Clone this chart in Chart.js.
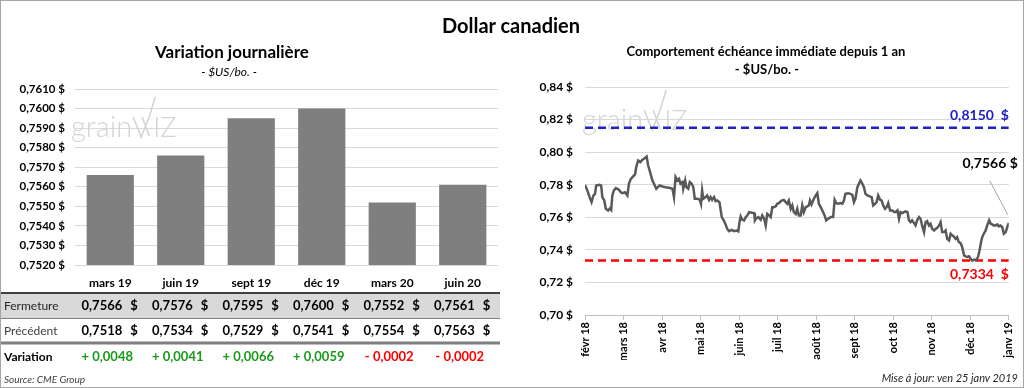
<!DOCTYPE html>
<html lang="fr">
<head>
<meta charset="utf-8">
<script src="https://cdn.jsdelivr.net/npm/chart.js@4/dist/chart.umd.min.js"></script>
<style>
  body { margin: 0; background: #fff; }
  #wrap { position: relative; width: 1024px; height: 388px; background: #fff; font-family: Lato, "Noto Sans", sans-serif; color: #000; overflow: hidden; }
  #frame { position: absolute; inset: 0; border: 1px solid #a6a6a6; pointer-events: none; }
  .txt { position: absolute; white-space: nowrap; }
  canvas { position: absolute; top: 0; }
</style>
</head>
<body>
<div id="wrap">
  <canvas id="daily" width="505" height="388" style="left:0"></canvas>
  <canvas id="trend" width="519" height="388" style="left:505px"></canvas>

  <div class="txt" style="left:0;width:1022px;top:12px;line-height:26px;text-align:center;font-weight:bold;font-size:20px">Dollar canadien</div>
  <div class="txt" style="left:0;width:464px;top:41px;line-height:22px;text-align:center;font-weight:bold;font-size:17px">Variation journalière</div>
  <div class="txt" style="left:0;width:458px;top:64px;line-height:16px;text-align:center;font-style:italic;font-size:12px">- $US/bo. -</div>
  <div class="txt" style="left:512px;width:508px;top:43px;line-height:16px;text-align:center;font-weight:bold;font-size:13px">Comportement échéance immédiate depuis 1 an</div>
  <div class="txt" style="left:512px;width:510px;top:61px;line-height:16px;text-align:center;font-weight:bold;font-size:13px">- $US/bo. -</div>
  <div class="txt" style="left:4px;top:372px;line-height:14px;font-style:italic;font-size:10px;color:#404040">Source: CME Group</div>
  <div class="txt" style="right:6px;top:371px;line-height:14px;font-style:italic;font-size:11px;color:#262626">Mise à jour: ven 25 janv 2019</div>
  <div id="frame"></div>
</div>

<script>
// Daily variation (left)
const contracts = ['mars 19', 'juin 19', 'sept 19', 'déc 19', 'mars 20', 'juin 20']
const closeValues = [0.7566, 0.7576, 0.7595, 0.7600, 0.7552, 0.7561]
const previousValues = [0.7518, 0.7534, 0.7529, 0.7541, 0.7554, 0.7563]
const variations = [0.0048, 0.0041, 0.0066, 0.0059, -0.0002, -0.0002]

// One-year behaviour (right), x = months since févr 18
const monthLabels = ['févr 18', 'mars 18', 'avr 18', 'mai 18', 'juin 18', 'juil 18', 'août 18', 'sept 18', 'oct 18', 'nov 18', 'déc 18', 'janv 19']
const trendX = [
  0, 0.06, 0.12, 0.17, 0.22, 0.26, 0.29, 0.38, 0.42, 0.45, 0.50, 0.54, 0.60, 0.65, 0.68, 0.71, 0.75, 0.80, 0.88, 0.93,
  0.97, 1.04, 1.10, 1.14, 1.19, 1.25, 1.30, 1.33, 1.38, 1.44, 1.49, 1.53, 1.60, 1.64, 1.69, 1.75, 1.79, 1.85, 1.89, 1.94,
  2.01, 2.09, 2.18, 2.27, 2.31, 2.35, 2.40, 2.44, 2.48, 2.53, 2.55, 2.60, 2.63, 2.68, 2.72, 2.77, 2.81, 2.85, 2.92, 2.98,
  3.01, 3.04, 3.07, 3.13, 3.17, 3.22, 3.26, 3.30, 3.35, 3.39, 3.43, 3.49, 3.55, 3.61, 3.65, 3.69, 3.74, 3.81, 3.87, 3.93,
  3.98, 4.01, 4.04, 4.08, 4.13, 4.17, 4.21, 4.26, 4.33, 4.39, 4.41, 4.45, 4.50, 4.56, 4.60, 4.65, 4.69, 4.73, 4.78, 4.82,
  4.86, 4.90, 4.95, 4.99, 5.03, 5.10, 5.16, 5.21, 5.25, 5.29, 5.34, 5.38, 5.42, 5.47, 5.51, 5.55, 5.60, 5.64, 5.68, 5.73,
  5.77, 5.81, 5.84, 5.88, 5.94, 5.99, 6.03, 6.07, 6.12, 6.16, 6.22, 6.26, 6.31, 6.38, 6.44, 6.48, 6.52, 6.57, 6.63, 6.68,
  6.72, 6.76, 6.83, 6.89, 6.94, 6.98, 7.02, 7.07, 7.11, 7.15, 7.20, 7.24, 7.28, 7.33, 7.39, 7.44, 7.48, 7.53, 7.57, 7.61,
  7.66, 7.70, 7.74, 7.79, 7.83, 7.87, 7.92, 7.98, 8.02, 8.06, 8.11, 8.15, 8.19, 8.24, 8.28, 8.32, 8.37, 8.41, 8.45, 8.49,
  8.54, 8.58, 8.62, 8.67, 8.71, 8.75, 8.80, 8.84, 8.88, 8.93, 8.97, 9.01, 9.06, 9.10, 9.14, 9.19, 9.23, 9.27, 9.32, 9.36,
  9.40, 9.45, 9.49, 9.53, 9.57, 9.62, 9.66, 9.70, 9.75, 9.79, 9.84, 9.88, 9.92, 9.97, 10.01, 10.05, 10.09, 10.16, 10.20, 10.24,
  10.28, 10.31, 10.35, 10.40, 10.44, 10.49, 10.53, 10.57, 10.61, 10.66, 10.70, 10.74, 10.78, 10.83, 10.87, 10.92, 10.96, 11.00
]
const trendY = [
  0.7799, 0.7765, 0.7724, 0.7693, 0.7734, 0.7744, 0.7795, 0.7799, 0.7795, 0.7724, 0.7703, 0.7652, 0.7642, 0.7656, 0.7646, 0.7734, 0.7765, 0.7779, 0.7769, 0.7754,
  0.7748, 0.7754, 0.7734, 0.7806, 0.7836, 0.7851, 0.7863, 0.7908, 0.7949, 0.7939, 0.7953, 0.7959, 0.7973, 0.7918, 0.7877, 0.7826, 0.7806, 0.7775, 0.7785, 0.7795,
  0.7789, 0.7785, 0.7781, 0.7775, 0.7724, 0.7847, 0.7826, 0.7836, 0.7806, 0.7816, 0.7775, 0.7826, 0.7785, 0.7775, 0.7816, 0.7806, 0.7785, 0.7714, 0.7714, 0.7707,
  0.7683, 0.7765, 0.7714, 0.7724, 0.7734, 0.7707, 0.7724, 0.7707, 0.7724, 0.7699, 0.7703, 0.7693, 0.7601, 0.7576, 0.7556, 0.7529, 0.7515, 0.7523, 0.7515, 0.7519,
  0.7513, 0.7570, 0.7605, 0.7585, 0.7581, 0.7601, 0.7611, 0.7632, 0.7628, 0.7626, 0.7581, 0.7595, 0.7601, 0.7585, 0.7611, 0.7591, 0.7550, 0.7621, 0.7611, 0.7601,
  0.7662, 0.7662, 0.7667, 0.7683, 0.7687, 0.7703, 0.7707, 0.7693, 0.7683, 0.7703, 0.7652, 0.7673, 0.7632, 0.7621, 0.7652, 0.7611, 0.7611, 0.7673, 0.7632, 0.7662,
  0.7667, 0.7673, 0.7703, 0.7679, 0.7714, 0.7734, 0.7748, 0.7683, 0.7662, 0.7642, 0.7611, 0.7581, 0.7591, 0.7601, 0.7601, 0.7707, 0.7687, 0.7683, 0.7687, 0.7683,
  0.7703, 0.7744, 0.7748, 0.7744, 0.7738, 0.7693, 0.7714, 0.7785, 0.7806, 0.7826, 0.7806, 0.7785, 0.7744, 0.7734, 0.7728, 0.7724, 0.7673, 0.7683, 0.7693, 0.7734,
  0.7707, 0.7703, 0.7673, 0.7652, 0.7662, 0.7687, 0.7642, 0.7642, 0.7632, 0.7632, 0.7642, 0.7591, 0.7632, 0.7626, 0.7632, 0.7636, 0.7632, 0.7581, 0.7570, 0.7581,
  0.7564, 0.7550, 0.7581, 0.7601, 0.7591, 0.7550, 0.7509, 0.7570, 0.7576, 0.7550, 0.7560, 0.7529, 0.7519, 0.7529, 0.7534, 0.7550, 0.7570, 0.7509, 0.7509, 0.7519,
  0.7468, 0.7458, 0.7499, 0.7489, 0.7482, 0.7468, 0.7478, 0.7448, 0.7441, 0.7417, 0.7366, 0.7360, 0.7356, 0.7360, 0.7345, 0.7334, 0.7339, 0.7339, 0.7356, 0.7396,
  0.7448, 0.7478, 0.7499, 0.7519, 0.7550, 0.7581, 0.7560, 0.7556, 0.7550, 0.7550, 0.7556, 0.7544, 0.7550, 0.7540, 0.7499, 0.7509, 0.7540, 0.7566
]
const highValue = 0.8150
const lowValue = 0.7334
const lastValue = 0.7566

const FONT = 'Lato, "Noto Sans", sans-serif'
const fmt = (v, d) => v.toFixed(d).replace('.', ',')

const drawLogo = (ctx, x, y) => {
    ctx.save()
    ctx.fillStyle = '#d4d4d4'
    ctx.strokeStyle = '#d4d4d4'
    ctx.font = '300 29px ' + FONT
    ctx.textBaseline = 'alphabetic'
    ctx.fillText('grain', x, y)
    const w = ctx.measureText('grain').width
    ctx.lineWidth = 1.6
    ctx.beginPath()
    ctx.moveTo(x + w + 1, y - 20)
    ctx.lineTo(x + w + 9, y)
    ctx.lineTo(x + w + 17, y - 20)
    ctx.lineTo(x + w + 23, y - 40)
    ctx.moveTo(x + w + 10, y - 20)
    ctx.lineTo(x + w + 17, y - 1)
    ctx.stroke()
    ctx.font = '300 27px ' + FONT
    ctx.fillText('IZ', x + w + 21, y)
    ctx.restore()
}

const tablePlugin = {
    id: 'table',
    beforeDatasetsDraw: (chart) => drawLogo(chart.ctx, 71, 137),
    afterDraw: (chart) => {
        const { ctx, scales } = chart
        const x = scales.x
        ctx.save()
        ctx.fillStyle = '#d9d9d9'
        ctx.fillRect(0, 294, 500, 24)
        ctx.strokeStyle = '#404040'
        ctx.lineWidth = 2
        ctx.beginPath(); ctx.moveTo(0, 293); ctx.lineTo(500, 293); ctx.stroke()
        ctx.strokeStyle = '#7f7f7f'
        ctx.lineWidth = 1
        ctx.beginPath(); ctx.moveTo(0, 318.5); ctx.lineTo(500, 318.5); ctx.stroke()
        ctx.lineWidth = 3
        ctx.beginPath(); ctx.moveTo(0, 343); ctx.lineTo(500, 343); ctx.stroke()

        ctx.textBaseline = 'middle'
        ctx.textAlign = 'left'
        ctx.fillStyle = '#262626'
        ctx.font = '12px ' + FONT
        ctx.fillText('Fermeture', 4, 306)
        ctx.fillStyle = '#404040'
        ctx.fillText('Précédent', 4, 331)
        ctx.fillStyle = '#000'
        ctx.font = 'bold 12px ' + FONT
        ctx.fillText('Variation', 4, 357)

        ctx.font = 'bold 13px ' + FONT
        contracts.forEach((_, i) => {
            const cx = x.getPixelForValue(i)
            ctx.fillStyle = '#000'
            ctx.textAlign = 'right'
            ctx.fillText(fmt(closeValues[i], 4), cx + 12, 306)
            ctx.fillText(fmt(previousValues[i], 4), cx + 12, 331)
            ctx.textAlign = 'left'
            ctx.fillText('$', cx + 20, 306)
            ctx.fillText('$', cx + 20, 331)
            const v = variations[i]
            ctx.textAlign = 'center'
            ctx.fillStyle = v >= 0 ? '#1a9a1a' : '#ff0000'
            ctx.fillText((v >= 0 ? '+ ' : '- ') + fmt(Math.abs(v), 4), cx - 3, 357)
        })
        ctx.restore()
    }
}

new Chart(document.getElementById('daily'), {
    type: 'bar',
    data: {
        labels: contracts,
        datasets: [{
            data: closeValues,
            backgroundColor: '#7f7f7f',
            barPercentage: 0.67,
            categoryPercentage: 1,
        }]
    },
    options: {
        responsive: false,
        animation: false,
        layout: { padding: { left: 0, right: 7, top: 89, bottom: 95 } },
        plugins: { legend: { display: false }, tooltip: { enabled: false } },
        scales: {
            x: {
                grid: { display: false, drawTicks: false, tickLength: 0 },
                border: { display: false },
                ticks: { color: '#000', font: { family: FONT, size: 12, weight: 'bold' }, padding: 11 },
                afterFit: (s) => { s.height = 28 },
            },
            y: {
                min: 0.752,
                max: 0.761,
                grid: { color: '#d9d9d9', drawTicks: false },
                border: { display: false },
                ticks: {
                    stepSize: 0.001,
                    padding: 10,
                    color: '#000',
                    font: { family: FONT, size: 11.5, weight: 'bold' },
                    callback: (v) => fmt(v, 4) + ' $'
                },
                afterFit: (s) => { s.width = 75 },
            }
        }
    },
    plugins: [tablePlugin]
})

const labelPlugin = {
    id: 'labels',
    beforeDatasetsDraw: (chart) => drawLogo(chart.ctx, 77, 130),
    afterDatasetsDraw: (chart) => {
        const { ctx, scales, chartArea } = chart
        const y = scales.y
        const x = scales.x
        ctx.save()
        ctx.font = 'bold 14px ' + FONT
        ctx.textAlign = 'right'
        ctx.textBaseline = 'middle'
        ctx.fillStyle = '#2121c4'
        ctx.fillText('0,8150  $', chartArea.right, y.getPixelForValue(highValue) - 12)
        ctx.fillStyle = '#ff0000'
        ctx.fillText('0,7334  $', chartArea.right, y.getPixelForValue(lowValue) + 14)

        const lx = x.getPixelForValue(trendX[trendX.length - 1])
        const ly = y.getPixelForValue(lastValue)
        ctx.strokeStyle = '#a6a6a6'
        ctx.lineWidth = 1
        ctx.beginPath()
        ctx.moveTo(lx - 19, ly - 42)
        ctx.lineTo(lx - 1, ly - 8)
        ctx.stroke()
        ctx.fillStyle = '#000'
        ctx.fillText(fmt(lastValue, 4) + ' $', lx + 9, ly - 59)
        ctx.restore()
    }
}

new Chart(document.getElementById('trend'), {
    type: 'line',
    data: {
        datasets: [
            {
                data: trendX.map((v, i) => ({ x: v, y: trendY[i] })),
                borderColor: '#595959',
                borderWidth: 2.5,
                pointRadius: 0,
                tension: 0,
            },
            {
                data: [{ x: 0, y: highValue }, { x: 11, y: highValue }],
                borderColor: '#2121c4',
                borderWidth: 2.5,
                borderDash: [8, 5],
                pointRadius: 0,
            },
            {
                data: [{ x: 0, y: lowValue }, { x: 11, y: lowValue }],
                borderColor: '#ff0000',
                borderWidth: 2.5,
                borderDash: [8, 5],
                pointRadius: 0,
            }
        ]
    },
    options: {
        responsive: false,
        animation: false,
        layout: { padding: { left: 0, right: 14, top: 87, bottom: 28 } },
        plugins: { legend: { display: false }, tooltip: { enabled: false } },
        scales: {
            x: {
                type: 'linear',
                min: 0,
                max: 11,
                grid: { drawOnChartArea: false, color: '#bfbfbf', tickLength: 5 },
                border: { color: '#bfbfbf' },
                ticks: {
                    stepSize: 1,
                    autoSkip: false,
                    minRotation: 90,
                    maxRotation: 90,
                    padding: 2,
                    color: '#000',
                    font: { family: FONT, size: 11, weight: 'bold' },
                    callback: (v) => monthLabels[v]
                },
                afterFit: (s) => { s.height = 45 },
            },
            y: {
                min: 0.70,
                max: 0.84,
                grid: { color: '#d9d9d9', drawTicks: false },
                border: { display: false },
                ticks: {
                    stepSize: 0.02,
                    padding: 12,
                    color: '#000',
                    font: { family: FONT, size: 12, weight: 'bold' },
                    callback: (v) => fmt(v, 2) + ' $'
                },
                afterFit: (s) => { s.width = 80 },
            }
        }
    },
    plugins: [labelPlugin]
})
</script>
</body>
</html>
